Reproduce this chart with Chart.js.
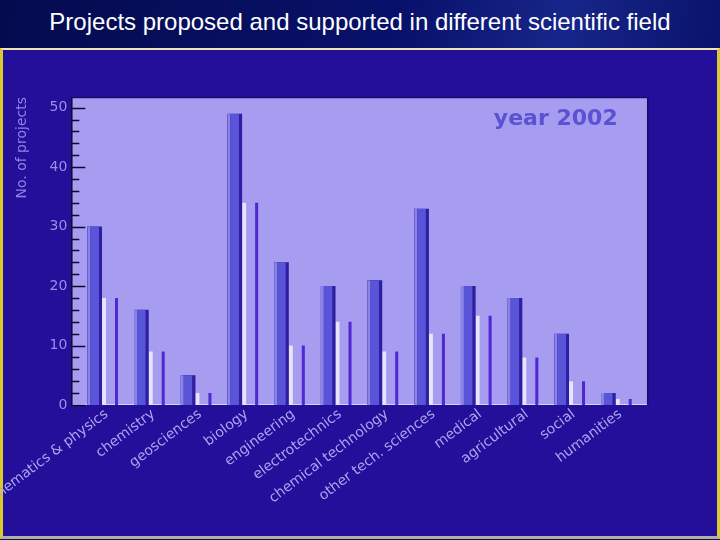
<!DOCTYPE html>
<html lang="en">
<head>
    <meta charset="UTF-8">
    <title>Projects proposed and supported</title>
    <script src="https://cdn.jsdelivr.net/npm/chart.js"></script>
    <style>
        body { margin: 0; width: 720px; height: 540px; background: #0a1064; overflow: hidden; position: relative; }
        #head {
            position: absolute; left: 0; top: 0; width: 720px; height: 48px;
            background: linear-gradient(100deg, #050b4e 0%, #08116a 55%, #17268a 78%, #0a136c 100%);
            color: #fff; font: 24px "Liberation Sans", Arial, sans-serif;
            text-align: center; line-height: 44px;
        }
        #panel {
            position: absolute; left: 0; top: 48px; width: 714px; height: 486px;
            background: #230f9a;
            border: 3px solid #d8cc2c; border-top: 2px solid #efe6b4; border-bottom: 3px solid #b4aea0;
        }
        canvas { position: absolute; left: 0; top: 0; }
    </style>
</head>
<body>
    <div id="head">Projects proposed and supported in different scientific field</div>
    <div id="panel"></div>
    <canvas id="myChart" width="720" height="540"></canvas>
    <script>
        const fields = ['mathematics & physics', 'chemistry', 'geosciences', 'biology', 'engineering',
            'electrotechnics', 'chemical technology', 'other tech. sciences', 'medical',
            'agricultural', 'social', 'humanities'];
        const proposed = [30, 16, 5, 49, 24, 20, 21, 33, 20, 18, 12, 2];
        const supported = [18, 9, 2, 34, 10, 14, 9, 12, 15, 8, 4, 1];
        const yTicks = [0, 10, 20, 30, 40, 50];

        // two groups per category ('p' on the left, 's' on the right). chart.js puts
        // group 0 at -size/4 and group 1 at +size/4 from the category centre, so choose
        // size per dataset to land each bar where the original has it (fractions of a category)
        function place(offset, width) {
            const size = Math.abs(offset) * 4;
            return { categoryPercentage: size, barPercentage: width / (size / 2) };
        }

        const plotFrame = {
            id: 'plotFrame',
            beforeDatasetsDraw(chart) {
                const { ctx, chartArea: a } = chart;
                ctx.save();
                ctx.fillStyle = '#a69cf0';
                ctx.fillRect(a.left - 8, a.top, a.right - a.left + 16, a.bottom - a.top);
                ctx.strokeStyle = '#d6d2fa';
                ctx.lineWidth = 1;
                ctx.beginPath();
                ctx.moveTo(a.left - 8, a.bottom - 0.5);
                ctx.lineTo(a.right + 8, a.bottom - 0.5);
                ctx.stroke();
                ctx.restore();
            },
            afterDatasetsDraw(chart) {
                const { ctx, chartArea: a, scales } = chart;
                const left = a.left - 8, right = a.right + 8;
                ctx.save();
                ctx.strokeStyle = '#1a0c6c';
                ctx.lineWidth = 1.5;
                ctx.beginPath();
                ctx.moveTo(left, a.top + 0.5);
                ctx.lineTo(right, a.top + 0.5);
                ctx.lineTo(right, a.bottom);
                ctx.stroke();
                ctx.strokeStyle = '#0c0830';
                ctx.beginPath();
                ctx.moveTo(left + 0.5, a.top);
                ctx.lineTo(left + 0.5, a.bottom);
                for (let v = 0; v <= 50; v += 2) {
                    const y = Math.round(scales.y.getPixelForValue(v)) + 0.5;
                    ctx.moveTo(left, y);
                    ctx.lineTo(left + (v % 10 === 0 ? 14 : 8), y);
                }
                ctx.stroke();
                ctx.fillStyle = '#5a52d2';
                ctx.font = 'bold 22px "DejaVu Sans", sans-serif';
                ctx.textAlign = 'right';
                ctx.textBaseline = 'alphabetic';
                ctx.fillText('year 2002', right - 30, a.top + 28);
                ctx.restore();
            }
        };

        const ctx = document.getElementById('myChart').getContext('2d');
        new Chart(ctx, {
            type: 'bar',
            data: {
                labels: fields,
                datasets: [
                    {
                        label: 'proposed', data: proposed, stack: 'p',
                        backgroundColor: '#5a55d8', borderColor: '#8a84e6',
                        borderWidth: { left: 3, right: 0, top: 0, bottom: 0 },
                        ...place(-0.203, 0.25)
                    },
                    {
                        label: 'proposed (side)', data: proposed, stack: 'p',
                        backgroundColor: '#2d1ea2', borderWidth: 0,
                        ...place(-0.171, 0.315)
                    },
                    {
                        label: 'supported', data: supported, stack: 's',
                        backgroundColor: '#e8e4fc', borderWidth: 0,
                        ...place(0.029, 0.086)
                    },
                    {
                        label: 'supported (edge)', data: supported, stack: 's',
                        backgroundColor: '#5028d2', borderWidth: 0,
                        ...place(0.297, 0.065)
                    }
                ]
            },
            options: {
                responsive: false,
                animation: false,
                layout: { padding: { top: 97, left: 9.6, right: 80.3, bottom: 0 } },
                plugins: { legend: { display: false }, tooltip: { enabled: false } },
                scales: {
                    x: {
                        grid: { display: false, drawTicks: false },
                        border: { display: false },
                        ticks: {
                            color: '#aaa4f2',
                            font: { family: 'DejaVu Sans', size: 14 },
                            minRotation: 37, maxRotation: 37,
                            autoSkip: false, padding: 1, labelOffset: 4
                        },
                        afterFit(scale) {
                            scale.height = 135;
                            scale.paddingLeft = 0;
                            scale.paddingRight = 0;
                        }
                    },
                    y: {
                        stacked: false,
                        min: 0, max: 51.8,
                        grid: { display: false, drawTicks: false },
                        border: { display: false },
                        afterBuildTicks(scale) {
                            scale.ticks = yTicks.map(v => ({ value: v }));
                        },
                        ticks: {
                            color: '#9890e8',
                            font: { family: 'DejaVu Sans', size: 14 },
                            padding: 12
                        },
                        title: {
                            display: true,
                            text: 'No. of projects',
                            align: 'end',
                            color: '#8c84e6',
                            font: { family: 'DejaVu Sans', size: 14 }
                        },
                        afterFit(scale) {
                            scale.width = 69.7;
                        }
                    }
                }
            },
            plugins: [plotFrame]
        });
    </script>
</body>
</html>
